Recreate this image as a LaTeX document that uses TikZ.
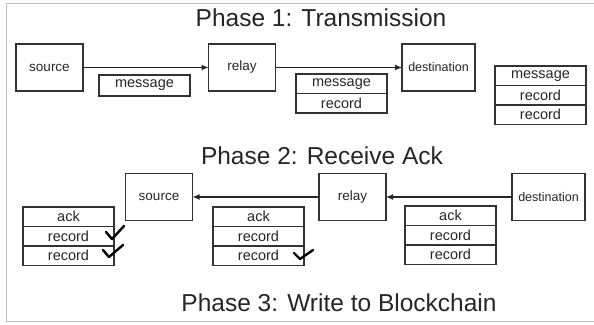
\documentclass[tikz,border=0pt]{standalone}
\usepackage{fontspec}
\setmainfont{Liberation Sans}
\usetikzlibrary{positioning,arrows.meta}
\begin{document}
\begin{tikzpicture}[x=1pt,y=-1pt,
	main/.style = {draw=black!80, line width=1.3pt, minimum width=67pt, minimum height=47pt, inner sep=0pt, outer sep=0pt, text=black!85, font=\fontsize{13.5}{14}\selectfont},
	dest/.style = {main, minimum width=73pt, font=\fontsize{12.5}{13}\selectfont},
	cell/.style = {draw=black!80, line width=1.3pt, minimum width=91pt, minimum height=19.5pt, inner sep=0pt, outer sep=0pt, text=black!85, font=\fontsize{14.5}{15}\selectfont},
	title/.style = {anchor=base, inner sep=0pt, text=black!85, font=\fontsize{24.5}{26}\selectfont},
	link/.style = {draw=black!85, line width=1.2pt, -{Latex[length=7pt,width=6pt]}},
	tick/.style = {line width=2.4pt, line cap=round, line join=round}]
	\useasboundingbox (0,0) rectangle (594,324);
	\draw[black!25, line width=1pt] (594,3) -- (6,3) -- (6,321) -- (594,321);

	% phase 1
	\node[title] (t1) at (321,27) {Phase 1: Transmission};
	\node[main] (s1) at (49.5,67.5) {source};
	\node[main] (r1) at (242,67.5) {relay};
	\node[dest] (d1) at (438.5,67.5) {destination};
	\node[cell, minimum height=21pt] (m1) at (144.5,85.5) {message};
	\node[cell, anchor=north west] (a1) at (296,74) {message};
	\node[cell] (a2) [below=0pt of a1] {record};
	\node[cell, anchor=north west] (b1) at (495,66) {message};
	\node[cell] (b2) [below=0pt of b1] {record};
	\node[cell] (b3) [below=0pt of b2] {record};

	\draw[link] (s1) -- (r1);
	\draw[link] (r1) -- (d1);

	% phase 2
	\node[title] (t2) at (322,164) {Phase 2: Receive Ack};
	\node[main] (s2) at (159,197) {source};
	\node[main] (r2) at (352.5,197) {relay};
	\node[dest] (d2) at (548.5,197) {destination};
	\node[cell, anchor=north west] (c1) at (23,207) {ack};
	\node[cell] (c2) [below=0pt of c1] {record};
	\node[cell] (c3) [below=0pt of c2] {record};
	\node[cell, anchor=north west] (e1) at (213,207) {ack};
	\node[cell] (e2) [below=0pt of e1] {record};
	\node[cell] (e3) [below=0pt of e2] {record};
	\node[cell, anchor=north west] (f1) at (405,206) {ack};
	\node[cell] (f2) [below=0pt of f1] {record};
	\node[cell] (f3) [below=0pt of f2] {record};

	\draw[link] (d2) -- (r2);
	\draw[link] (r2) -- (s2);

	\draw[tick] (106,232) -- (112,239) -- (124,226);
	\draw[tick] (103,250) -- (109,257) -- (123,245);
	\draw[tick] (294,253) -- (300,259) -- (313,250);

	% phase 3
	\node[title] (t3) at (339,311) {Phase 3: Write to Blockchain};
\end{tikzpicture}
\end{document}
